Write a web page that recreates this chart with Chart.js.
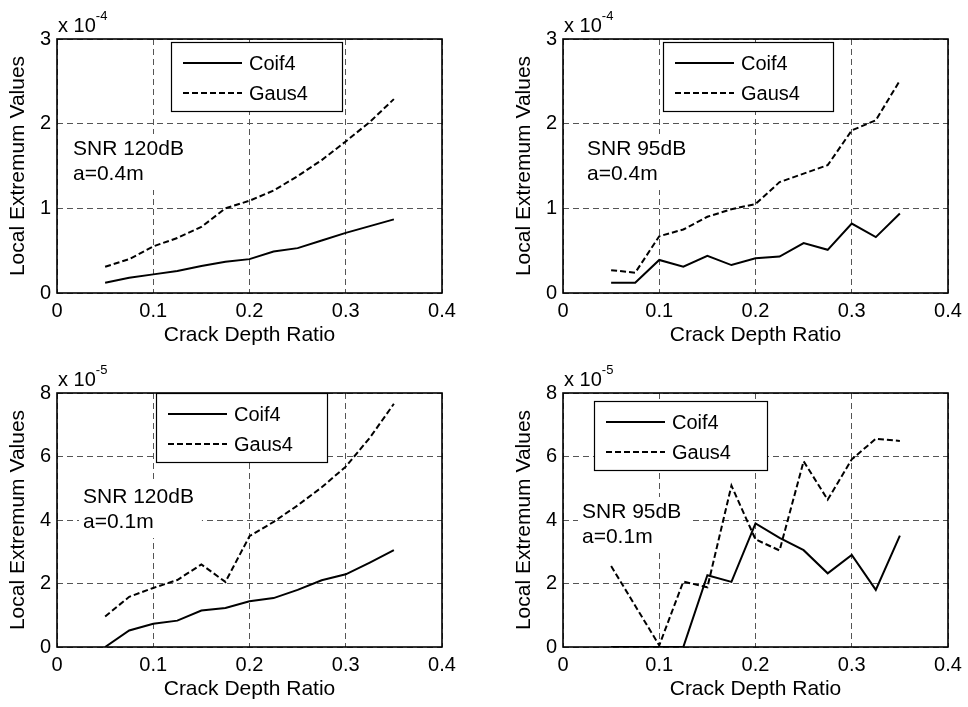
<!DOCTYPE html>
<html>
<head>
<meta charset="utf-8">
<script src="https://cdn.jsdelivr.net/npm/chart.js@4"></script>
<style>
  body { margin: 0; background: #fff; width: 968px; height: 707px; overflow: hidden; position: relative; }
  canvas { position: absolute; }
</style>
</head>
<body>
<canvas id="tl" width="484" height="353" style="left:0;top:0"></canvas>
<canvas id="tr" width="462" height="353" style="left:506px;top:0"></canvas>
<canvas id="bl" width="484" height="353" style="left:0;top:354px"></canvas>
<canvas id="br" width="462" height="353" style="left:506px;top:354px"></canvas>
<script>
// crack depth ratio (x) and local extremum values (in units of the axis exponent)
const crackDepth = [0.05, 0.075, 0.1, 0.125, 0.15, 0.175, 0.2, 0.225, 0.25, 0.275, 0.3, 0.325, 0.35];

const coifSnr120A04 = [0.12, 0.18, 0.22, 0.26, 0.32, 0.37, 0.40, 0.49, 0.53, 0.62, 0.71, 0.79, 0.87];
const gausSnr120A04 = [0.31, 0.40, 0.55, 0.65, 0.78, 1.00, 1.09, 1.21, 1.38, 1.57, 1.79, 2.02, 2.29];
const coifSnr95A04 = [0.12, 0.12, 0.39, 0.31, 0.44, 0.33, 0.41, 0.43, 0.59, 0.51, 0.82, 0.66, 0.94];
const gausSnr95A04 = [0.27, 0.24, 0.67, 0.75, 0.90, 0.99, 1.05, 1.31, 1.41, 1.51, 1.92, 2.04, 2.51];
const coifSnr120A01 = [0, 0.52, 0.73, 0.83, 1.15, 1.23, 1.44, 1.54, 1.80, 2.10, 2.29, 2.66, 3.05];
const gausSnr120A01 = [0.96, 1.58, 1.86, 2.11, 2.60, 2.05, 3.49, 3.94, 4.46, 5.03, 5.68, 6.59, 7.66];
const coifSnr95A01 = [0, 0, 0, 0, 2.26, 2.05, 3.89, 3.44, 3.05, 2.32, 2.90, 1.80, 3.51];
const gausSnr95A01 = [2.55, 1.30, 0.05, 2.06, 1.88, 5.08, 3.39, 3.04, 5.85, 4.64, 5.91, 6.56, 6.49];

const xTicks = [0, 0.1, 0.2, 0.3, 0.4];
const yTicksA04 = [0, 1, 2, 3];
const yTicksA01 = [0, 2, 4, 6, 8];
const seriesNames = ['Coif4', 'Gaus4'];

const FONT = "'Liberation Sans', Arial, Helvetica, sans-serif";

// draws the matlab-ish decorations: box, exponent, text note, legend
const decoPlugin = {
    id: 'deco',
    beforeDatasetsDraw(chart, args, opts) {
        const ctx = chart.ctx;
        const a = chart.chartArea;
        const x = a.left + opts.note.x;
        const y = a.top + opts.note.y;
        ctx.save();
        ctx.font = '21px ' + FONT;
        const w = Math.max(...opts.note.lines.map(t => ctx.measureText(t).width));
        ctx.fillStyle = '#fff';
        ctx.fillRect(x - 4, y - 21, w + 12, 25 * opts.note.lines.length + 6);
        ctx.fillStyle = '#000';
        ctx.textBaseline = 'alphabetic';
        opts.note.lines.forEach((t, i) => ctx.fillText(t, x, y + i * 25));
        ctx.restore();
    },
    afterDatasetsDraw(chart, args, opts) {
        const ctx = chart.ctx;
        const a = chart.chartArea;
        const lx = a.left + opts.legend.x;
        const ly = a.top + opts.legend.y;
        ctx.save();
        ctx.fillStyle = '#fff';
        ctx.fillRect(lx, ly, opts.legend.w, 69);
        ctx.strokeStyle = '#000';
        ctx.lineWidth = 1.2;
        ctx.strokeRect(lx + 0.5, ly + 0.5, opts.legend.w, 69);
        chart.data.datasets.forEach((ds, i) => {
            const ry = ly + 21 + i * 30;
            ctx.beginPath();
            ctx.setLineDash(ds.borderDash || []);
            ctx.lineWidth = 2;
            ctx.moveTo(lx + 12, ry);
            ctx.lineTo(lx + 71, ry);
            ctx.stroke();
            ctx.setLineDash([]);
            ctx.fillStyle = '#000';
            ctx.font = '20px ' + FONT;
            ctx.textBaseline = 'middle';
            ctx.fillText(ds.label, lx + 78, ry + 1);
        });
        ctx.restore();
    },
    afterDraw(chart, args, opts) {
        const ctx = chart.ctx;
        const a = chart.chartArea;
        ctx.save();
        ctx.strokeStyle = '#000';
        ctx.lineWidth = 1.6;
        ctx.strokeRect(a.left, a.top, a.right - a.left, a.bottom - a.top);
        // axis multiplier
        ctx.fillStyle = '#000';
        ctx.font = '20px ' + FONT;
        ctx.textBaseline = 'alphabetic';
        ctx.fillText('x 10', a.left + 1, a.top - 7);
        const w = ctx.measureText('x 10').width;
        ctx.font = '13px ' + FONT;
        ctx.fillText(opts.exponent, a.left + 1 + w, a.top - 19);
        ctx.restore();
    }
};

function makePanel(id, coif, gaus, yTicks, exponent, note, legend, padRight) {
    const toPoints = vals => crackDepth.map((x, i) => ({ x: x, y: vals[i] }));
    return new Chart(document.getElementById(id), {
        type: 'line',
        data: {
            datasets: [
                { label: seriesNames[0], data: toPoints(coif), borderColor: '#000', borderWidth: 2, pointRadius: 0, tension: 0, fill: false },
                { label: seriesNames[1], data: toPoints(gaus), borderColor: '#000', borderWidth: 2, borderDash: [6, 3], pointRadius: 0, tension: 0, fill: false }
            ]
        },
        options: {
            responsive: false,
            animation: false,
            devicePixelRatio: 1,
            layout: { padding: { top: 39, right: padRight, left: 0, bottom: 0 } },
            plugins: {
                legend: { display: false },
                tooltip: { enabled: false },
                deco: { exponent: exponent, note: note, legend: legend }
            },
            scales: {
                x: {
                    type: 'linear',
                    min: 0,
                    max: 0.4,
                    afterBuildTicks: s => { s.ticks = xTicks.map(v => ({ value: v })); },
                    afterFit: s => { s.height = 60; },
                    grid: { color: '#555', lineWidth: 1, drawTicks: false, borderDash: [6, 4] },
                    border: { display: false, dash: [6, 4] },
                    ticks: { color: '#000', padding: 6, maxRotation: 0, font: { size: 20, family: FONT } },
                    title: { display: true, text: 'Crack Depth Ratio', color: '#000', padding: { top: 0, bottom: 5 }, font: { size: 21, family: FONT } }
                },
                y: {
                    min: yTicks[0],
                    max: yTicks[yTicks.length - 1],
                    afterBuildTicks: s => { s.ticks = yTicks.map(v => ({ value: v })); },
                    afterFit: s => { s.width = 57; },
                    grid: { color: '#555', lineWidth: 1, drawTicks: false, borderDash: [6, 4] },
                    border: { display: false, dash: [6, 4] },
                    ticks: { color: '#000', padding: 6, font: { size: 20, family: FONT } },
                    title: { display: true, text: 'Local Extremum Values', color: '#000', padding: { top: 6, bottom: 0 }, font: { size: 21, family: FONT } }
                }
            }
        },
        plugins: [decoPlugin]
    });
}

makePanel('tl', coifSnr120A04, gausSnr120A04, yTicksA04, '-4',
    { x: 16, y: 116, lines: ['SNR 120dB', 'a=0.4m'] }, { x: 114, y: 3, w: 171 }, 42);
makePanel('tr', coifSnr95A04, gausSnr95A04, yTicksA04, '-4',
    { x: 24, y: 116, lines: ['SNR 95dB', 'a=0.4m'] }, { x: 100, y: 3, w: 170 }, 20);
makePanel('bl', coifSnr120A01, gausSnr120A01, yTicksA01, '-5',
    { x: 26, y: 110, lines: ['SNR 120dB', 'a=0.1m'] }, { x: 99, y: 0, w: 171 }, 42);
makePanel('br', coifSnr95A01, gausSnr95A01, yTicksA01, '-5',
    { x: 19, y: 125, lines: ['SNR 95dB', 'a=0.1m'] }, { x: 31, y: 8, w: 173 }, 20);
</script>
</body>
</html>
